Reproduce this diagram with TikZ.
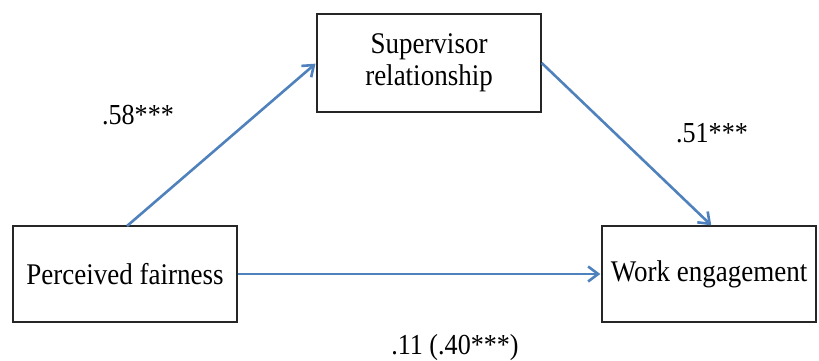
\documentclass[tikz,border=0pt]{standalone}
\usepackage{fontspec}
\setmainfont{Liberation Serif}[FakeStretch=0.9]
\usetikzlibrary{arrows.meta}
\definecolor{arrowblue}{HTML}{4F81BD}
\tikzset{
  box/.style={draw=black!85, line width=1.5pt, fill=white, align=center, inner sep=0pt,
    font=\fontsize{30}{32}\selectfont},
  lbl/.style={inner sep=0pt, font=\fontsize{29}{32}\selectfont},
  conn/.style={draw=arrowblue, line width=2.6pt, -{Straight Barb[length=10pt, width=15pt, line width=2.6pt]}, shorten >=1pt}
}
\begin{document}
\begin{tikzpicture}[x=1pt, y=-1pt]
\useasboundingbox (0,0) rectangle (819,361);
\node[box, minimum width=224pt, minimum height=98pt] (sr) at (429,63) {Supervisor\\relationship};
\node[box, minimum width=224pt, minimum height=96pt] (pf) at (125,274) {Perceived fairness};
\node[box, minimum width=214pt, minimum height=96pt] (we) at (709,274) {Work engagement};
\coordinate (a1) at (127,226);
\coordinate (a2) at (712,226);
\draw[conn] (a1) -- (sr.west);
\draw[conn] (sr.east) -- (a2);
\draw[conn] (pf.east) -- (we.west);
\node[lbl] (l1) at (138,115) {.58***};
\node[lbl] (l2) at (712,133) {.51***};
\node[lbl] (l3) at (455,348) {.11 (.40***)};
\end{tikzpicture}
\end{document}
